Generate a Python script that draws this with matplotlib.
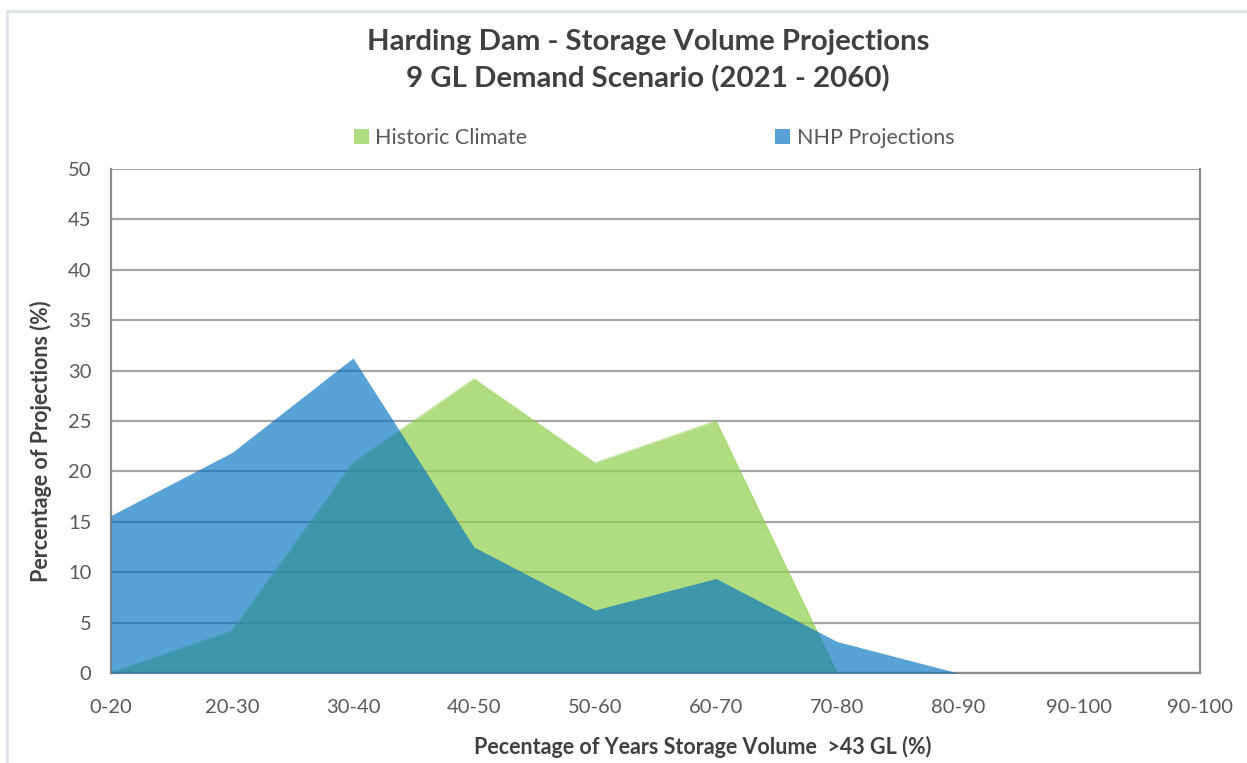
import matplotlib
matplotlib.use("Agg")
import matplotlib.pyplot as plt
from matplotlib.patches import Patch, Rectangle

# ---------------- Data ------------------------------------------------
categories = ["0-20", "20-30", "30-40", "40-50", "50-60", "60-70",
              "70-80", "80-90", "90-100", "90-100"]
historic = [0, 4.17, 20.83, 29.17, 20.83, 25.0, 0, 0, 0, 0]
nhp = [15.625, 21.875, 31.25, 12.5, 6.25, 9.375, 3.125, 0, 0, 0]
yticks = list(range(0, 55, 5))

GREEN = "#92D050"
BLUE = "#0070C0"
TXT = "#595959"
TITLE_C = "#404040"

plt.rcParams["font.family"] = ["Lato", "DejaVu Sans"]

fig = plt.figure(figsize=(12.47, 7.63), dpi=100)
fig.patches.append(Rectangle((7 / 1247, -0.1), 1.1, 1 - 11 / 763 + 0.1,
                             transform=fig.transFigure, fill=False,
                             edgecolor="#e0e3e8", lw=2))

ax = fig.add_axes([111 / 1247, 1 - 673 / 763, 1089 / 1247, 504 / 763])
x = list(range(len(categories)))

ax.fill_between(x, historic, 0, color=GREEN, alpha=0.72, lw=0, zorder=2)
ax.plot(x, historic, color=GREEN, alpha=0.5, lw=1, zorder=2)
ax.fill_between(x, nhp, 0, color=BLUE, alpha=0.65, lw=0, zorder=3)

ax.set_xlim(0, len(categories) - 1)
ax.set_ylim(0, 50)
ax.set_yticks(yticks)
ax.set_xticks(x)
ax.set_xticklabels(categories)
ax.yaxis.grid(True, color="#a6a6a6", lw=1.6, zorder=0)
ax.set_axisbelow(True)
ax.tick_params(length=0, labelsize=14.5, colors=TXT)
ax.tick_params(axis="x", pad=19)
ax.tick_params(axis="y", pad=14)

for side in ["left", "bottom", "right"]:
    ax.spines[side].set_color("#8c8c8c")
    ax.spines[side].set_linewidth(1.6)
ax.spines["top"].set_visible(False)

ax.set_ylabel("Percentage of Projections (%)", fontsize=15.5,
              fontweight="bold", color=TITLE_C)
ax.yaxis.set_label_coords(-0.054, 0.46)
ax.set_xlabel("Pecentage of Years Storage Volume  >43 GL (%)", fontsize=15.5,
              fontweight="bold", color=TITLE_C)
ax.xaxis.set_label_coords(0.543, -0.125)

fig.text(648 / 1247, 1 - 42 / 763, "Harding Dam - Storage Volume Projections",
         ha="center", va="center", fontsize=21.2, fontweight="bold", color=TITLE_C)
fig.text(648 / 1247, 1 - 79 / 763, "9 GL Demand Scenario (2021 - 2060)",
         ha="center", va="center", fontsize=21.2, fontweight="bold", color=TITLE_C)

handles = [Patch(facecolor=GREEN, alpha=0.72, lw=0),
           Patch(facecolor=BLUE, alpha=0.65, lw=0)]
fig.legend(handles, ["Historic Climate", "NHP Projections"], ncol=2,
           loc="center", bbox_to_anchor=(654 / 1247, 1 - 138 / 763),
           frameon=False, fontsize=15.5, labelcolor=TXT,
           handlelength=0.7, handleheight=0.7, handletextpad=0.3,
           columnspacing=11.5)

fig.savefig("out.png", dpi=100)
